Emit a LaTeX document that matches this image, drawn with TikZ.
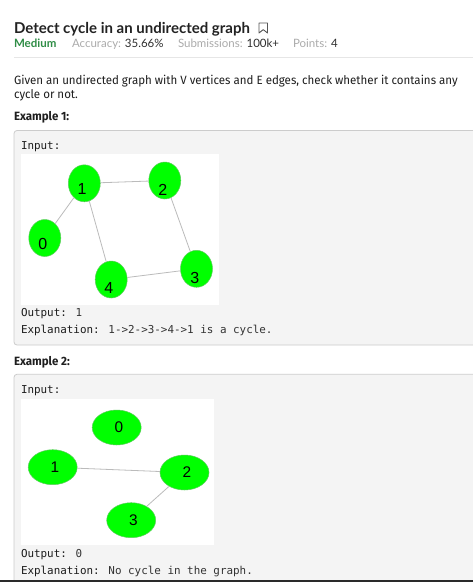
\documentclass[tikz,border=0pt]{standalone}
\usepackage{fontspec}
\usetikzlibrary{shapes.geometric}
\setmainfont[FakeStretch=0.96]{Fira Sans}
\newfontfamily\titlefont{Lato}
\newfontfamily\codefont{DejaVu Sans Mono}
\newfontfamily\numfont{Liberation Sans}
\definecolor{titlecol}{HTML}{222222}
\definecolor{medgreen}{HTML}{2F8D46}
\definecolor{metagray}{HTML}{ABABAB}
\definecolor{metaval}{HTML}{2E2E2E}
\definecolor{bodycol}{HTML}{1E1E1E}
\definecolor{rulecol}{HTML}{E6E6E6}
\definecolor{boxfill}{HTML}{F4F4F4}
\definecolor{boxline}{HTML}{CCCCCC}
\definecolor{codelab}{HTML}{1C1C1C}
\definecolor{codeval}{HTML}{333333}
\definecolor{nodegreen}{HTML}{00FF00}
\definecolor{nodeedge}{HTML}{5FCB5F}
\definecolor{edgecol}{HTML}{BBBBBB}
\definecolor{iconcol}{HTML}{555555}
\definecolor{bottomline}{HTML}{2A2A2A}
\tikzset{
  txt/.style={anchor=base west, inner sep=0pt, outer sep=0pt},
  gnode/.style={ellipse, fill=nodegreen, draw=nodeedge, line width=0.5pt, inner sep=0pt},
  gnodeA/.style={gnode, minimum width=32pt, minimum height=37pt},
  gnodeB/.style={gnode, minimum width=49pt, minimum height=35pt},
  labA/.style={inner sep=0pt, text=black, font=\numfont\fontsize{16}{16}\selectfont},
  labB/.style={inner sep=0pt, text=black, font=\numfont\fontsize{15.4}{15.4}\selectfont},
  edge/.style={draw=edgecol, line width=0.8pt},
  exbox/.style={draw=boxline, fill=boxfill, line width=0.8pt, rounded corners=3pt},
  imgbg/.style={fill=white},
  codestyle/.style={txt, font=\codefont\fontsize{10.9}{13}\selectfont},
  metastyle/.style={txt, font=\titlefont\fontsize{11.5}{14}\selectfont},
}
\begin{document}
\begin{tikzpicture}[x=1pt,y=-1pt]
\useasboundingbox (0,0) rectangle (473,582);
\fill[white] (0,0) rectangle (473,582);
\clip (0,0) rectangle (473,582);

% header
\node[txt, text=titlecol, font=\titlefont\bfseries\fontsize{15}{18}\selectfont] (title) at (14,33.3) {Detect cycle in an undirected graph};
\draw[iconcol, line width=0.9pt, line join=round] (259,23) -- (267.5,23) -- (267.5,33) -- (263.25,29.6) -- (259,33) -- cycle;

\node[txt, text=medgreen, font=\titlefont\bfseries\fontsize{11.5}{14}\selectfont] (medium) at (14,47.5) {Medium};
\node[metastyle] (acc) at (72,47.5) {\textcolor{metagray}{Accuracy:} \textcolor{metaval}{35.66\%}};
\node[metastyle] (subs) at (178,47.5) {\textcolor{metagray}{Submissions:} \textcolor{metaval}{100k+}};
\node[metastyle] (pts) at (293,47.5) {\textcolor{metagray}{Points:} \textcolor{metaval}{4}};

\draw[rulecol, line width=0.8pt] (14,57.3) -- (473,57.3);

\node[txt, text=bodycol, font=\fontsize{12}{14}\selectfont] (para1) at (14,84) {Given an undirected graph with V vertices and E edges, check whether it contains any};
\node[txt, text=bodycol, font=\fontsize{12}{14}\selectfont] (para2) at (14,98.3) {cycle or not.};

% Example 1
\node[txt, text=bodycol, font=\bfseries\fontsize{12}{14}\selectfont] (ex1) at (14,120) {Example 1:};
\draw[exbox] (14,130.5) rectangle (490,345);
\node[codestyle, text=codelab] (in1) at (21,149) {Input:};
\fill[imgbg] (21,154) rectangle (219,304.5);

\node[gnodeA, label={[labA, xshift=-2.3pt, yshift=-5.8pt]center:1}] (a1) at (84.3,183.3) {};
\node[gnodeA, label={[labA, xshift=-2pt, yshift=-9pt]center:2}] (a2) at (164.8,180.5) {};
\node[gnodeA, label={[labA, xshift=-2pt, yshift=-5.5pt]center:0}] (a0) at (44.8,238) {};
\node[gnodeA, label={[labA, xshift=-2.3pt, yshift=-8.5pt]center:4}] (a4) at (111.2,279.5) {};
\node[gnodeA, label={[labA, xshift=-1.6pt, yshift=-8.7pt]center:3}] (a3) at (196.5,268.8) {};
\path[edge] (a1) -- (a2);
\path[edge] (a1) -- (a0);
\path[edge] (a1) -- (a4);
\path[edge] (a2) -- (a3);
\path[edge] (a4) -- (a3);

\node[codestyle] (out1) at (21,316.7) {\textcolor{codelab}{Output:} \textcolor{codeval}{1}};
\node[codestyle] (exp1) at (21,333.3) {\textcolor{codelab}{Explanation:} \textcolor{codeval}{1->2->3->4->1 is a cycle.}};

% Example 2
\node[txt, text=bodycol, font=\bfseries\fontsize{12}{14}\selectfont] (ex2) at (14,365.5) {Example 2:};
\draw[exbox] (14,374.3) rectangle (490,620);
\node[codestyle, text=codelab] (in2) at (21,393.3) {Input:};
\fill[imgbg] (21,399) rectangle (214,545);

\node[gnodeB, label={[labB, xshift=2.3pt]center:0}] (b0) at (116.7,427.5) {};
\node[gnodeB, label={[labB, xshift=2.3pt]center:1}] (b1) at (52.7,467.2) {};
\node[gnodeB, label={[labB, xshift=2.3pt]center:2}] (b2) at (184.5,472.5) {};
\node[gnodeB, label={[labB, xshift=2.3pt]center:3}] (b3) at (131.2,520.2) {};
\path[edge] (b1) -- (b2);
\path[edge] (b2) -- (b3);

\node[codestyle] (out2) at (21,557.3) {\textcolor{codelab}{Output:} \textcolor{codeval}{0}};
\node[codestyle] (exp2) at (21,574) {\textcolor{codelab}{Explanation:} \textcolor{codeval}{No cycle in the graph.}};

\fill[bottomline] (0,580.3) rectangle (473,582);
\end{tikzpicture}
\end{document}
